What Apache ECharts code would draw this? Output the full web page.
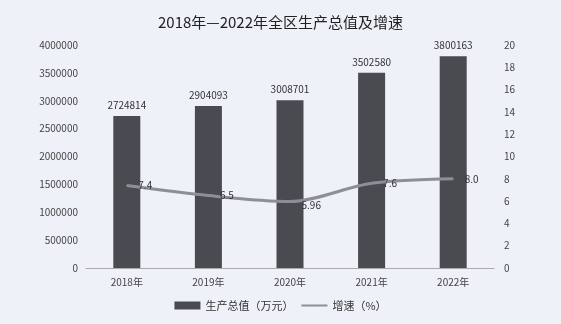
<!DOCTYPE html>
<html>
<head>
<meta charset="utf-8">
<style>
  html, body { margin: 0; padding: 0; background: #eef1f7; }
  #chart { width: 561px; height: 324px; }
</style>
<script src="https://cdn.jsdelivr.net/npm/echarts@6/dist/echarts.min.js"></script>
</head>
<body>
<div id="chart"></div>
<script>
// 全区生产总值（万元）与增速（%），2018—2022年
const years = ['2018年', '2019年', '2020年', '2021年', '2022年'];
const gdpValues = [2724814, 2904093, 3008701, 3502580, 3800163];
const growthRates = [7.4, 6.5, 5.96, 7.6, 8.0];
const growthLabels = ['7.4', '6.5', '5.96', '7.6', '8.0'];

const font = '"Microsoft YaHei", "Noto Sans CJK SC", sans-serif';
const chart = echarts.init(document.getElementById('chart'));

chart.setOption({
  backgroundColor: '#eef1f7',
  animation: false,
  textStyle: { fontFamily: font },
  title: {
    text: '2018年—2022年全区生产总值及增速',
    left: 'center',
    top: 10,
    textStyle: { fontSize: 15, fontWeight: 'normal', color: '#222', fontFamily: font }
  },
  legend: {
    bottom: 8,
    left: 'center',
    itemGap: 8,
    itemWidth: 26,
    itemHeight: 8,
    textStyle: { fontSize: 11, color: '#333' },
    data: [
      { name: '生产总值（万元）', icon: 'rect' },
      { name: '增速（%）', icon: 'path://M0,4 L26,4 L26,6 L0,6 Z' }
    ]
  },
  grid: { left: 86, right: 67, top: 45, bottom: 56 },
  xAxis: {
    type: 'category',
    data: years,
    axisLine: { lineStyle: { color: '#aaa', width: 1 } },
    axisTick: { show: false },
    axisLabel: { fontSize: 10, color: '#444', margin: 9 }
  },
  yAxis: [
    {
      type: 'value',
      min: 0, max: 4000000, interval: 500000,
      splitLine: { show: false },
      axisLine: { show: false },
      axisTick: { show: false },
      axisLabel: { fontSize: 10, color: '#444', margin: 8, formatter: v => String(v) }
    },
    {
      type: 'value',
      min: 0, max: 20, interval: 2,
      splitLine: { show: false },
      axisLine: { show: false },
      axisTick: { show: false },
      axisLabel: { fontSize: 10, color: '#444', margin: 10 }
    }
  ],
  series: [
    {
      name: '生产总值（万元）',
      type: 'bar',
      data: gdpValues,
      barWidth: 27,
      itemStyle: { color: '#4a4b50' },
      label: {
        show: true,
        position: 'top',
        distance: 6,
        fontSize: 10,
        color: '#333'
      }
    },
    {
      name: '增速（%）',
      type: 'line',
      yAxisIndex: 1,
      data: growthRates.map((v, i) => i === 2
        ? { value: v, label: { offset: [0, 4] } }
        : v),
      smooth: 0.3,
      symbol: 'circle',
      symbolSize: 1,
      showSymbol: true,
      lineStyle: { color: '#8c9096', width: 3 },
      itemStyle: { color: '#8c9096' },
      label: {
        show: true,
        position: 'right',
        distance: 11,
        fontSize: 10,
        color: '#333',
        formatter: p => growthLabels[p.dataIndex]
      }
    }
  ]
});
</script>
</body>
</html>
